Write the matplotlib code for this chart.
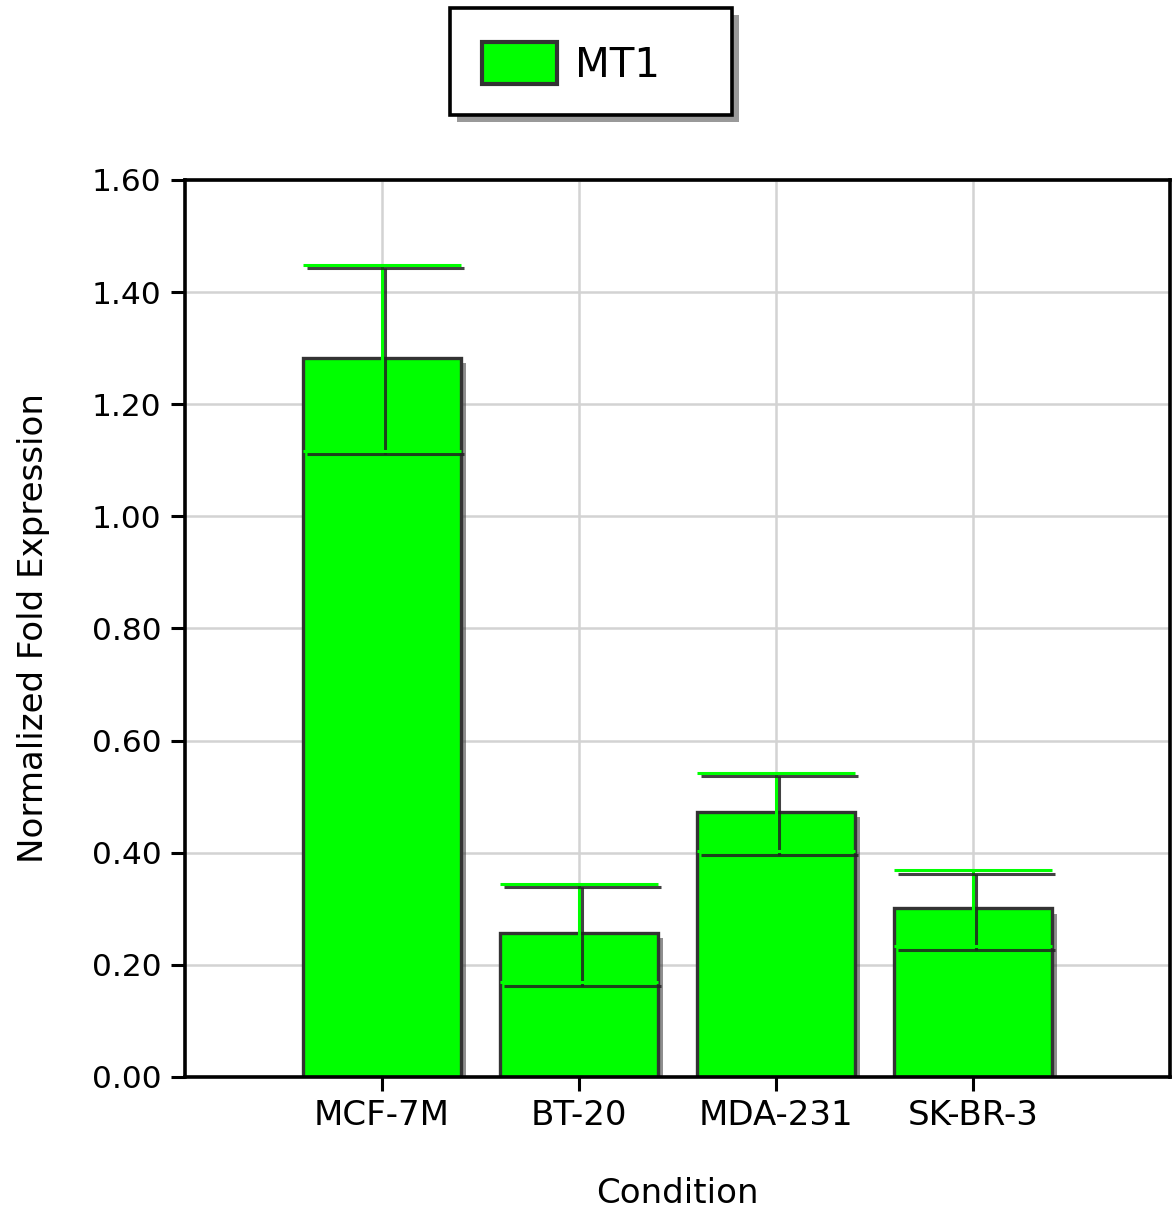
import numpy as np
import matplotlib
matplotlib.use('Agg')
import matplotlib.pyplot as plt
import matplotlib.patheffects as pe
from matplotlib.patches import Patch, Rectangle

# data
conditions = ['MCF-7M', 'BT-20', 'MDA-231', 'SK-BR-3']
fold_expression = [1.283, 0.257, 0.473, 0.301]
errors = [0.166, 0.088, 0.070, 0.068]
y_ticks = [0.0, 0.2, 0.4, 0.6, 0.8, 1.0, 1.2, 1.4, 1.6]
series_name = 'MT1'

green = '#00ff00'
edge = '#333333'

plt.rcParams['font.family'] = ['DejaVu Sans']

W, H = 1173, 1215
fig = plt.figure(figsize=(W / 100, H / 100), dpi=100)
ax = fig.add_axes([0.1577, 0.1136, 0.8397, 0.7383])

x = np.arange(len(conditions))
bar_w = 0.8

ax.set_axisbelow(True)
ax.grid(True, color='#d3d3d3', linewidth=1.8)

bar_shadow = [pe.SimplePatchShadow(offset=(4, -4), shadow_rgbFace='#444444', alpha=0.6), pe.Normal()]
line_shadow = [pe.SimpleLineShadow(offset=(2.5, -2.5), shadow_color='#222222', alpha=0.85), pe.Normal()]

bars = ax.bar(x, fold_expression, width=bar_w, color=green, edgecolor=edge,
              linewidth=2.4, zorder=2)
for b in bars:
    b.set_path_effects(bar_shadow)

vals = np.array(fold_expression)
errs = np.array(errors)
ax.vlines(x, vals - errs, vals + errs, color=green, linewidth=2.2, zorder=3,
          path_effects=line_shadow)
ax.hlines(vals + errs, x - bar_w / 2, x + bar_w / 2, color=green, linewidth=2.2,
          zorder=3, path_effects=line_shadow)
ax.hlines(vals - errs, x - bar_w / 2, x + bar_w / 2, color=green, linewidth=2.2,
          zorder=3, path_effects=line_shadow)

ax.set_xlim(-1, 4)
ax.set_ylim(0, 1.6)
ax.set_xticks(x)
ax.set_xticklabels(conditions)
ax.set_yticks(y_ticks)
ax.set_yticklabels(['%.2f' % v for v in y_ticks])
ax.tick_params(axis='both', length=10, width=2.2, colors='black')
ax.tick_params(axis='y', labelsize=22.5, pad=7)
ax.tick_params(axis='x', labelsize=24.5, pad=6)

for s in ax.spines.values():
    s.set_linewidth(2.6)
    s.set_color('black')

ax.set_ylabel('Normalized Fold Expression', fontsize=24.5, labelpad=30)
ax.set_xlabel('Condition', fontsize=24.5, labelpad=32)

# legend box drawn separately so it can be wider than its contents
box = Rectangle((450 / W, 1 - 115 / H), 282 / W, 107 / H, transform=fig.transFigure,
                facecolor='white', edgecolor='black', linewidth=2.6,
                path_effects=[pe.SimplePatchShadow(offset=(5, -5), shadow_rgbFace='#555555', alpha=0.6),
                              pe.Normal()])
fig.add_artist(box)

handle = Patch(facecolor=green, edgecolor=edge, linewidth=3)
leg = fig.legend([handle], [series_name], loc='center left',
                 bbox_to_anchor=(482 / W, 1 - 64 / H), fontsize=29, frameon=False,
                 handlelength=1.85, handleheight=1.2,
                 borderpad=0, handletextpad=0.45, borderaxespad=0)

fig.savefig('out.png', dpi=100)
